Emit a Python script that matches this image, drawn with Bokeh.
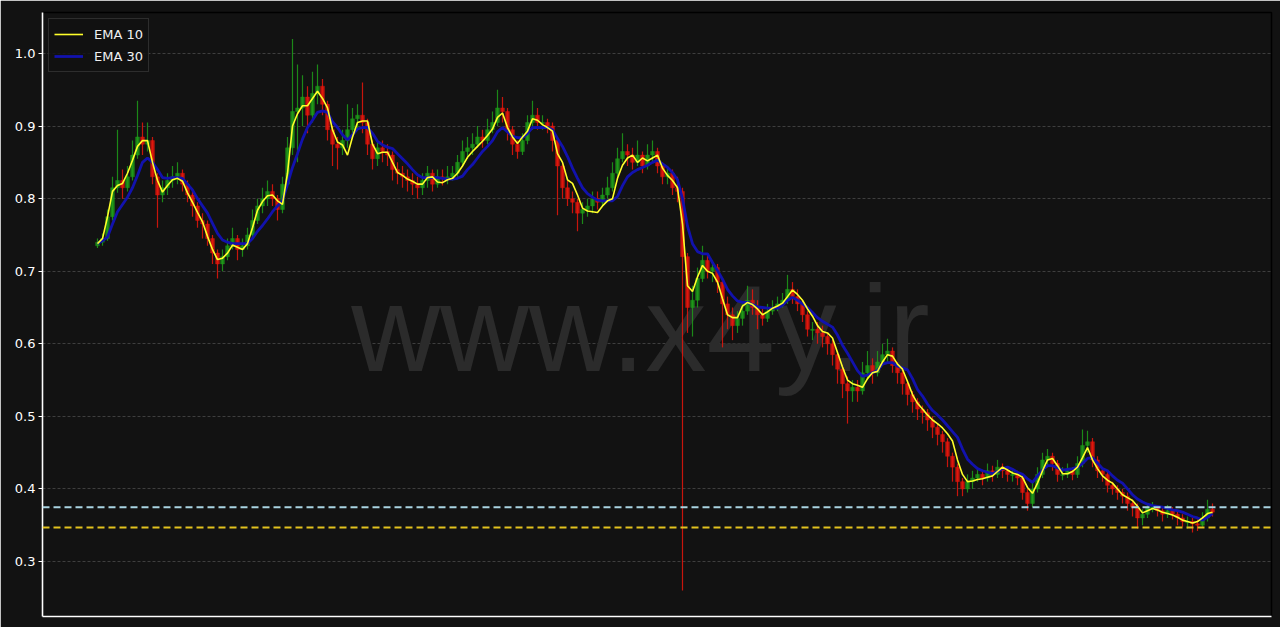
import re
from bokeh.plotting import figure
from bokeh.models import (ColumnDataSource, Range1d, FixedTicker, Legend, LegendItem,
                          Span, Label)
from bokeh.embed import file_html
from bokeh.resources import INLINE

# ---------------- data ----------------
close = [0.740, 0.745, 0.775, 0.815, 0.825, 0.815, 0.830, 0.860, 0.885, 0.875,
         0.880, 0.830, 0.805, 0.815, 0.825, 0.830, 0.835, 0.820, 0.805, 0.790,
         0.770, 0.765, 0.745, 0.725, 0.710, 0.720, 0.735, 0.745, 0.730, 0.735,
         0.750, 0.770, 0.790, 0.800, 0.810, 0.800, 0.785, 0.820, 0.870, 0.920,
         0.925, 0.940, 0.915, 0.945, 0.955, 0.930, 0.895, 0.875, 0.870, 0.880,
         0.895, 0.910, 0.915, 0.905, 0.875, 0.855, 0.870, 0.865, 0.860, 0.840,
         0.835, 0.830, 0.825, 0.820, 0.815, 0.825, 0.835, 0.820, 0.830, 0.828,
         0.830, 0.835, 0.850, 0.865, 0.870, 0.875, 0.885, 0.880, 0.895, 0.905,
         0.925, 0.920, 0.895, 0.875, 0.865, 0.880, 0.905, 0.915, 0.905, 0.905,
         0.900, 0.880, 0.845, 0.815, 0.800, 0.795, 0.780, 0.785, 0.790, 0.800,
         0.795, 0.805, 0.815, 0.835, 0.855, 0.865, 0.860, 0.850, 0.860, 0.845,
         0.860, 0.865, 0.845, 0.830, 0.835, 0.815, 0.810, 0.720, 0.650, 0.660,
         0.690, 0.715, 0.700, 0.705, 0.685, 0.655, 0.640, 0.625, 0.635, 0.645,
         0.660, 0.650, 0.640, 0.635, 0.645, 0.650, 0.655, 0.660, 0.675, 0.665,
         0.655, 0.640, 0.620, 0.620, 0.615, 0.610, 0.600, 0.585, 0.565, 0.545,
         0.535, 0.540, 0.535, 0.560, 0.570, 0.560, 0.575, 0.585, 0.590, 0.570,
         0.560, 0.545, 0.530, 0.520, 0.510, 0.505, 0.495, 0.485, 0.475, 0.465,
         0.445, 0.430, 0.410, 0.400, 0.410, 0.415, 0.420, 0.415, 0.425, 0.420,
         0.430, 0.425, 0.420, 0.420, 0.415, 0.395, 0.380, 0.400, 0.420, 0.440,
         0.445, 0.435, 0.420, 0.420, 0.425, 0.420, 0.435, 0.460, 0.465, 0.440,
         0.425, 0.420, 0.405, 0.400, 0.395, 0.390, 0.380, 0.375, 0.360, 0.365,
         0.375, 0.375, 0.370, 0.365, 0.370, 0.365, 0.360, 0.355, 0.355, 0.352,
         0.350, 0.360, 0.372, 0.368]

high = [0.745, 0.752, 0.785, 0.830, 0.895, 0.840, 0.845, 0.880, 0.935, 0.905,
        0.905, 0.885, 0.835, 0.825, 0.835, 0.845, 0.850, 0.840, 0.825, 0.810,
        0.795, 0.780, 0.770, 0.750, 0.730, 0.730, 0.745, 0.760, 0.750, 0.745,
        0.760, 0.785, 0.800, 0.815, 0.825, 0.820, 0.805, 0.830, 0.885, 1.020,
        0.985, 0.970, 0.955, 0.975, 0.985, 0.965, 0.935, 0.900, 0.885, 0.895,
        0.930, 0.925, 0.930, 0.960, 0.910, 0.880, 0.880, 0.880, 0.875, 0.865,
        0.850, 0.845, 0.840, 0.835, 0.830, 0.835, 0.845, 0.840, 0.840, 0.840,
        0.845, 0.845, 0.860, 0.880, 0.885, 0.890, 0.900, 0.895, 0.910, 0.920,
        0.950, 0.940, 0.925, 0.900, 0.880, 0.890, 0.915, 0.935, 0.925, 0.915,
        0.910, 0.905, 0.885, 0.850, 0.825, 0.810, 0.800, 0.795, 0.800, 0.810,
        0.810, 0.815, 0.830, 0.850, 0.870, 0.890, 0.875, 0.870, 0.880, 0.865,
        0.875, 0.880, 0.870, 0.850, 0.845, 0.840, 0.830, 0.815, 0.725, 0.680,
        0.705, 0.735, 0.725, 0.715, 0.710, 0.690, 0.665, 0.650, 0.645, 0.655,
        0.680, 0.675, 0.660, 0.650, 0.655, 0.660, 0.665, 0.670, 0.695, 0.685,
        0.675, 0.660, 0.645, 0.630, 0.630, 0.625, 0.615, 0.605, 0.590, 0.570,
        0.555, 0.550, 0.550, 0.575, 0.590, 0.580, 0.590, 0.600, 0.607, 0.595,
        0.575, 0.565, 0.550, 0.535, 0.525, 0.515, 0.510, 0.500, 0.490, 0.480,
        0.470, 0.450, 0.435, 0.415, 0.420, 0.425, 0.430, 0.425, 0.435, 0.432,
        0.440, 0.435, 0.430, 0.428, 0.425, 0.420, 0.400, 0.410, 0.430, 0.450,
        0.455, 0.450, 0.440, 0.430, 0.435, 0.430, 0.445, 0.482, 0.480, 0.470,
        0.445, 0.430, 0.425, 0.410, 0.405, 0.400, 0.395, 0.385, 0.380, 0.372,
        0.380, 0.382, 0.378, 0.375, 0.378, 0.375, 0.370, 0.365, 0.362, 0.360,
        0.358, 0.368, 0.385, 0.380]

low = [0.732, 0.735, 0.742, 0.770, 0.808, 0.800, 0.810, 0.825, 0.855, 0.860,
       0.865, 0.820, 0.760, 0.795, 0.805, 0.815, 0.820, 0.810, 0.795, 0.775,
       0.760, 0.745, 0.735, 0.710, 0.690, 0.700, 0.715, 0.730, 0.715, 0.720,
       0.730, 0.745, 0.765, 0.780, 0.790, 0.790, 0.770, 0.780, 0.815, 0.860,
       0.850, 0.900, 0.890, 0.905, 0.930, 0.915, 0.880, 0.845, 0.840, 0.860,
       0.870, 0.885, 0.895, 0.890, 0.860, 0.840, 0.845, 0.850, 0.845, 0.825,
       0.820, 0.815, 0.810, 0.805, 0.800, 0.805, 0.815, 0.810, 0.815, 0.818,
       0.820, 0.825, 0.830, 0.845, 0.855, 0.860, 0.870, 0.870, 0.875, 0.890,
       0.900, 0.905, 0.880, 0.860, 0.855, 0.860, 0.875, 0.895, 0.895, 0.895,
       0.890, 0.865, 0.777, 0.800, 0.790, 0.780, 0.755, 0.765, 0.775, 0.780,
       0.785, 0.790, 0.800, 0.810, 0.830, 0.850, 0.845, 0.840, 0.845, 0.835,
       0.840, 0.850, 0.835, 0.820, 0.820, 0.805, 0.795, 0.260, 0.615, 0.610,
       0.650, 0.685, 0.690, 0.685, 0.670, 0.595, 0.620, 0.605, 0.615, 0.625,
       0.640, 0.640, 0.620, 0.625, 0.630, 0.640, 0.645, 0.650, 0.655, 0.655,
       0.645, 0.630, 0.610, 0.605, 0.600, 0.595, 0.585, 0.570, 0.545, 0.525,
       0.490, 0.520, 0.520, 0.530, 0.550, 0.545, 0.555, 0.570, 0.575, 0.560,
       0.545, 0.530, 0.515, 0.505, 0.495, 0.490, 0.480, 0.470, 0.460, 0.450,
       0.430, 0.410, 0.390, 0.390, 0.395, 0.400, 0.410, 0.405, 0.410, 0.410,
       0.415, 0.415, 0.410, 0.410, 0.405, 0.385, 0.370, 0.375, 0.395, 0.415,
       0.430, 0.425, 0.410, 0.412, 0.415, 0.412, 0.415, 0.430, 0.450, 0.430,
       0.415, 0.410, 0.395, 0.392, 0.385, 0.380, 0.370, 0.362, 0.345, 0.350,
       0.360, 0.368, 0.362, 0.355, 0.360, 0.358, 0.350, 0.348, 0.345, 0.340,
       0.342, 0.348, 0.355, 0.362]

# EMA lines (yellow = EMA 10, blue = EMA 30)
ema10 = [0.738, 0.745, 0.775, 0.810, 0.818, 0.821, 0.835, 0.853, 0.872, 0.880,
         0.880, 0.850, 0.825, 0.809, 0.818, 0.826, 0.828, 0.824, 0.808, 0.795,
         0.781, 0.768, 0.748, 0.730, 0.716, 0.718, 0.725, 0.736, 0.733, 0.730,
         0.738, 0.760, 0.784, 0.796, 0.804, 0.805, 0.797, 0.792, 0.835, 0.900,
         0.917, 0.928, 0.928, 0.938, 0.948, 0.938, 0.925, 0.895, 0.878, 0.874,
         0.860, 0.885, 0.905, 0.907, 0.907, 0.875, 0.862, 0.864, 0.864, 0.850,
         0.836, 0.832, 0.827, 0.824, 0.820, 0.820, 0.829, 0.830, 0.823, 0.822,
         0.826, 0.828, 0.835, 0.845, 0.857, 0.865, 0.872, 0.879, 0.887, 0.896,
         0.912, 0.918, 0.898, 0.885, 0.876, 0.885, 0.893, 0.910, 0.908, 0.902,
         0.898, 0.893, 0.862, 0.850, 0.826, 0.821, 0.805, 0.787, 0.783, 0.782,
         0.781, 0.790, 0.797, 0.800, 0.828, 0.846, 0.856, 0.860, 0.850, 0.856,
         0.852, 0.856, 0.860, 0.842, 0.832, 0.825, 0.815, 0.765, 0.680, 0.672,
         0.692, 0.708, 0.700, 0.697, 0.685, 0.662, 0.640, 0.636, 0.636, 0.652,
         0.657, 0.654, 0.648, 0.640, 0.644, 0.649, 0.652, 0.656, 0.665, 0.674,
         0.668, 0.660, 0.648, 0.638, 0.625, 0.617, 0.615, 0.608, 0.588, 0.568,
         0.550, 0.545, 0.543, 0.540, 0.552, 0.560, 0.562, 0.575, 0.585, 0.583,
         0.572, 0.565, 0.548, 0.530, 0.518, 0.510, 0.502, 0.495, 0.490, 0.484,
         0.476, 0.466, 0.440, 0.420, 0.410, 0.411, 0.413, 0.414, 0.416, 0.418,
         0.424, 0.430, 0.426, 0.422, 0.420, 0.416, 0.402, 0.394, 0.408, 0.425,
         0.440, 0.442, 0.432, 0.421, 0.421, 0.424, 0.430, 0.443, 0.457, 0.440,
         0.428, 0.418, 0.412, 0.408, 0.400, 0.392, 0.388, 0.384, 0.376, 0.367,
         0.370, 0.373, 0.371, 0.368, 0.366, 0.364, 0.361, 0.357, 0.355, 0.353,
         0.355, 0.360, 0.366, 0.368]

ema30 = [0.738, 0.742, 0.747, 0.765, 0.782, 0.792, 0.802, 0.815, 0.832, 0.850,
         0.856, 0.850, 0.840, 0.829, 0.828, 0.829, 0.829, 0.828, 0.820, 0.812,
         0.800, 0.790, 0.780, 0.766, 0.752, 0.743, 0.740, 0.738, 0.738, 0.738,
         0.738, 0.745, 0.755, 0.763, 0.772, 0.782, 0.790, 0.797, 0.820, 0.843,
         0.862, 0.882, 0.898, 0.908, 0.919, 0.921, 0.919, 0.906, 0.898, 0.888,
         0.881, 0.888, 0.896, 0.898, 0.898, 0.890, 0.879, 0.874, 0.871, 0.869,
         0.862, 0.855, 0.848, 0.840, 0.833, 0.829, 0.829, 0.829, 0.829, 0.828,
         0.827, 0.827, 0.828, 0.831, 0.840, 0.847, 0.856, 0.865, 0.872, 0.880,
         0.892, 0.898, 0.892, 0.886, 0.884, 0.884, 0.890, 0.898, 0.898, 0.898,
         0.898, 0.895, 0.883, 0.872, 0.858, 0.842, 0.828, 0.815, 0.807, 0.802,
         0.798, 0.797, 0.797, 0.797, 0.803, 0.818, 0.830, 0.836, 0.840, 0.843,
         0.846, 0.850, 0.853, 0.848, 0.843, 0.836, 0.826, 0.800, 0.762, 0.738,
         0.727, 0.724, 0.724, 0.712, 0.701, 0.689, 0.675, 0.666, 0.659, 0.657,
         0.657, 0.654, 0.651, 0.650, 0.649, 0.649, 0.649, 0.653, 0.660, 0.664,
         0.660, 0.655, 0.650, 0.643, 0.636, 0.631, 0.627, 0.623, 0.612, 0.598,
         0.587, 0.575, 0.563, 0.555, 0.557, 0.560, 0.563, 0.572, 0.574, 0.574,
         0.569, 0.567, 0.564, 0.552, 0.537, 0.528, 0.517, 0.508, 0.502, 0.495,
         0.487, 0.479, 0.471, 0.455, 0.441, 0.434, 0.428, 0.425, 0.423, 0.421,
         0.424, 0.428, 0.430, 0.427, 0.423, 0.420, 0.414, 0.409, 0.418, 0.426,
         0.432, 0.432, 0.429, 0.426, 0.427, 0.428, 0.430, 0.435, 0.442, 0.443,
         0.436, 0.428, 0.425, 0.418, 0.412, 0.408, 0.400, 0.392, 0.386, 0.382,
         0.379, 0.377, 0.376, 0.375, 0.373, 0.371, 0.370, 0.368, 0.365, 0.362,
         0.360, 0.357, 0.361, 0.366]

first_open = 0.735
support_levels = [0.3747, 0.347]          # light blue, gold dashed lines
y_ticks = [0.3, 0.4, 0.5, 0.6, 0.7, 0.8, 0.9, 1.0]
y_tick_labels = ["0.3", "0.4", "0.5", "0.6", "0.7", "0.8", "0.9", "1.0"]
watermark_text = "www.x4y.ir"

# ---------------- derived ----------------
idx = list(range(len(close)))
opn = [first_open] + close[:-1]

GREEN = "#1f9e1a"
RED = "#e8160c"
colors = [GREEN if c >= o else RED for o, c in zip(opn, close)]
top = [max(o, c) for o, c in zip(opn, close)]
bot = [min(o, c) for o, c in zip(opn, close)]
bot = [b if t - b > 0.0015 else t - 0.0015 for t, b in zip(top, bot)]

src = ColumnDataSource(dict(x=idx, open=opn, close=close, high=high, low=low,
                            top=top, bot=bot, color=colors,
                            ema10=ema10, ema30=ema30))

BG = "#121212"
p = figure(width=1280, height=627, output_backend="svg", toolbar_location=None,
           x_range=Range1d(-11, 234.8), y_range=Range1d(0.2242, 1.0565),
           background_fill_color=BG, border_fill_color=BG,
           min_border_left=42, min_border_top=12, min_border_right=9,
           min_border_bottom=11)
p.outline_line_color = "black"
p.outline_line_width = 1.5

# watermark
p.add_layout(Label(x=108.6, y=0.621, text=watermark_text, text_align="center",
                   text_baseline="alphabetic", text_color="#2b2b2b",
                   text_font="Liberation Sans",
                   text_font_size="123px", level="underlay"))

# grid
p.xgrid.visible = False
p.ygrid.ticker = FixedTicker(ticks=y_ticks)
p.ygrid.grid_line_color = "#4a4a4a"
p.ygrid.grid_line_dash = "3 2"
p.ygrid.grid_line_width = 0.8

# candles
p.segment(x0="x", y0="low", x1="x", y1="high", source=src, color="color",
          line_width=1.2, alpha=0.85)
p.vbar(x="x", width=0.75, top="top", bottom="bot", source=src,
       fill_color="color", line_color="color", line_width=0.5, alpha=0.8)

# support lines
for lvl, col in zip(support_levels, ["#a9d4e2", "#e2c21e"]):
    p.add_layout(Span(location=lvl, dimension="width", line_color=col,
                      line_width=2, line_dash="7 4"))

# EMAs
r30 = p.line("x", "ema30", source=src, line_color="#1212ad", line_width=2.8)
r10 = p.line("x", "ema10", source=src, line_color="#ffff2a", line_width=1.6)

legend = Legend(items=[LegendItem(label="EMA 10", renderers=[r10]),
                       LegendItem(label="EMA 30", renderers=[r30])],
                location="top_left")
legend.margin = 6
legend.padding = 5
legend.spacing = 2
legend.glyph_width = 29
legend.glyph_height = 20
legend.label_height = 20
legend.label_standoff = 11
legend.label_text_font = "DejaVu Sans"
legend.label_text_font_size = "13px"
legend.label_text_color = "#f0f0f0"
legend.background_fill_color = BG
legend.background_fill_alpha = 0.85
legend.border_line_color = "#4a4a4a"
legend.border_line_width = 1
p.add_layout(legend)

# axes
p.yaxis.ticker = FixedTicker(ticks=y_ticks)
p.yaxis.major_label_overrides = {t: l for t, l in zip(y_ticks, y_tick_labels)}
p.yaxis.minor_tick_line_color = None
p.yaxis.major_tick_out = 4
p.yaxis.major_tick_in = 0
p.yaxis.major_tick_line_color = "white"
p.yaxis.axis_line_color = "white"
p.yaxis.axis_line_width = 1.6
p.yaxis.major_label_text_color = "white"
p.yaxis.major_label_text_font = "DejaVu Sans"
p.yaxis.major_label_text_font_size = "13px"
p.yaxis.major_label_standoff = 3

p.xaxis.ticker = FixedTicker(ticks=[])
p.xaxis.minor_tick_line_color = None
p.xaxis.major_tick_out = 0
p.xaxis.major_tick_in = 0
p.xaxis.major_label_standoff = 0
p.xaxis.axis_line_color = "white"
p.xaxis.axis_line_width = 1.6

html = file_html(p, INLINE)
html = re.sub(r"<body>", '<body style="background-color:#121212;">', html, count=1)
open("out.html", "w").write(html)
